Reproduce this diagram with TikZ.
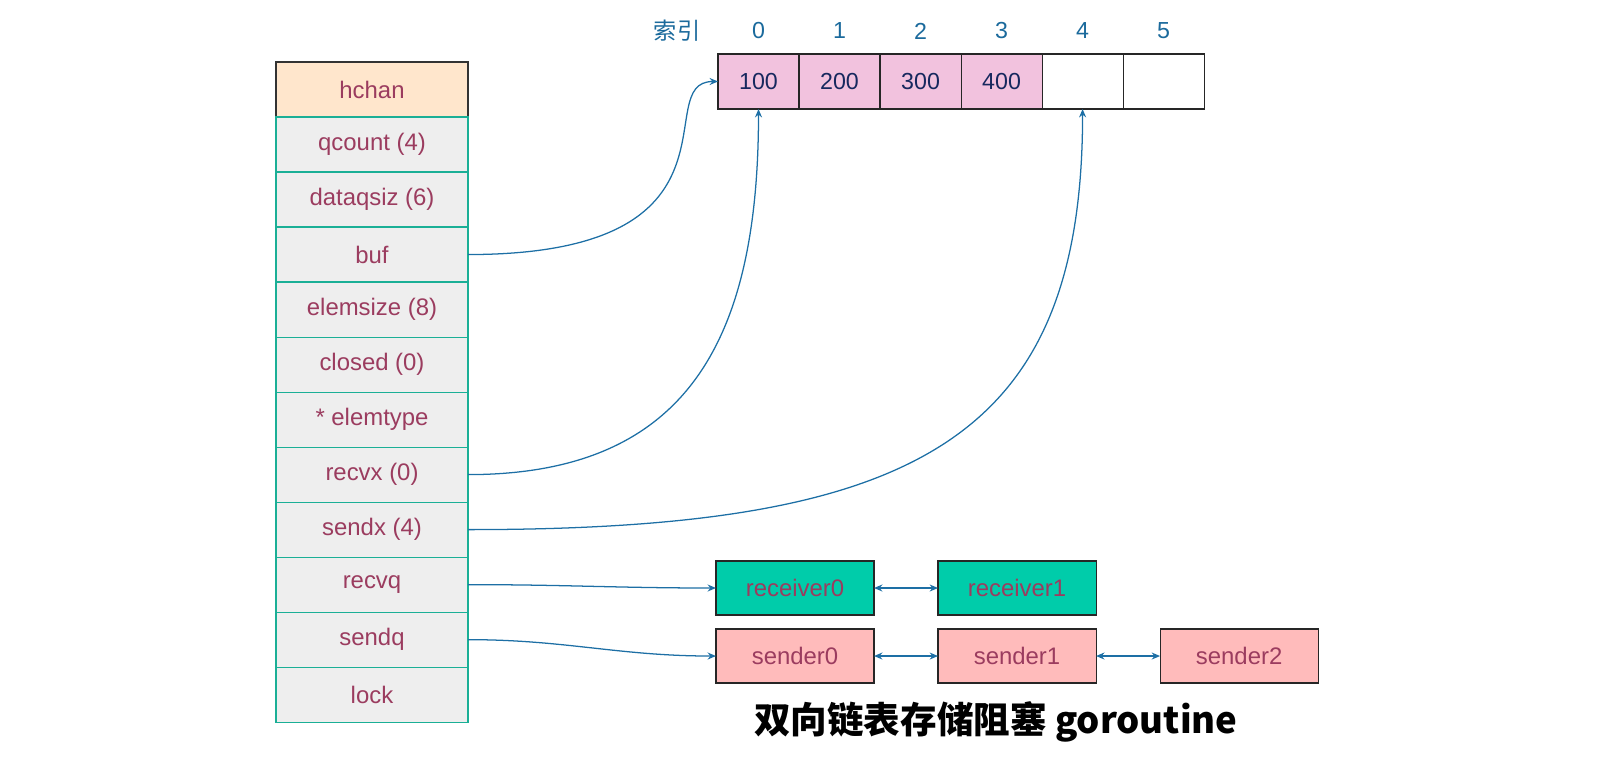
\documentclass[tikz,border=0pt]{standalone}
\usepackage{fontspec}
\setmainfont{Liberation Sans}
\newfontfamily\cjk{Noto Sans CJK SC}
\usepackage{tikz}
\usetikzlibrary{arrows.meta,positioning}

\definecolor{fieldtext}{RGB}{155,60,95}
\definecolor{fieldbg}{RGB}{238,238,238}
\definecolor{fieldline}{RGB}{26,175,150}
\definecolor{headbg}{RGB}{255,230,204}
\definecolor{cellbg}{RGB}{242,194,222}
\definecolor{celltext}{RGB}{23,40,94}
\definecolor{idxblue}{RGB}{27,106,156}
\definecolor{linkblue}{RGB}{29,111,165}
\definecolor{recvbg}{RGB}{0,204,170}
\definecolor{sendbg}{RGB}{255,187,187}

\begin{document}
\begin{tikzpicture}[
    x=0.025cm, y=-0.025cm,
    node distance=1.6cm,
    field/.style={rectangle, draw=fieldline, fill=fieldbg, line width=0.8pt, outer sep=0pt, minimum width=4.8cm, minimum height=1.375cm, text=fieldtext, font=\fontsize{17}{20}\selectfont},
    head/.style={field, draw=black!80, fill=headbg},
    cell/.style={rectangle, draw=black!85, fill=cellbg, line width=0.8pt, outer sep=0pt, minimum width=2.025cm, minimum height=1.375cm, text=celltext, font=\fontsize{16.5}{20}\selectfont},
    empty/.style={cell, fill=white},
    idx/.style={text=idxblue, font=\fontsize{16.5}{20}\selectfont},
    gnode/.style={rectangle, draw=black!85, line width=0.8pt, outer sep=0pt, minimum width=3.95cm, minimum height=1.35cm, text=fieldtext, font=\fontsize{17}{20}\selectfont},
    recvbox/.style={gnode, fill=recvbg},
    sendbox/.style={gnode, fill=sendbg},
    link/.style={-{Stealth[length=6pt,width=5pt,inset=2pt]}, draw=linkblue, line width=0.9pt},
    dlink/.style={{Stealth[length=6pt,width=5pt,inset=2pt]}-{Stealth[length=6pt,width=5pt,inset=2pt]}, draw=linkblue, line width=0.9pt}
]
\useasboundingbox (0,0) rectangle (1608,764);

% hchan struct
\node (hchan) [head] at (372,89.5) {hchan};
\node (qcount) [field, below=0pt of hchan] {qcount (4)};
\node (dataqsiz) [field, below=0pt of qcount] {dataqsiz (6)};
\node (buf) [field, below=0pt of dataqsiz] {buf};
\node (elemsize) [field, below=0pt of buf] {elemsize (8)};
\node (closed) [field, below=0pt of elemsize] {closed (0)};
\node (elemtype) [field, below=0pt of closed] {* elemtype};
\node (recvx) [field, below=0pt of elemtype] {recvx (0)};
\node (sendx) [field, below=0pt of recvx] {sendx (4)};
\node (recvq) [field, below=0pt of sendx] {recvq};
\node (sendq) [field, below=0pt of recvq] {sendq};
\node (lock) [field, below=0pt of sendq] {lock};

% ring buffer
\node (c0) [cell] at (758.5,81.5) {100};
\node (c1) [cell, right=0pt of c0] {200};
\node (c2) [cell, right=0pt of c1] {300};
\node (c3) [cell, right=0pt of c2] {400};
\node (c4) [empty, right=0pt of c3] {};
\node (c5) [empty, right=0pt of c4] {};

% indices
\coordinate (idxrow) at (0,31);
\node (idxname) [idx] at (677,31) {\cjk 索引};
\node (i0) [idx] at (c0 |- idxrow) {0};
\node (i1) [idx] at (c1 |- idxrow) {1};
\node (i2) [idx] at (c2 |- idxrow) {2};
\node (i3) [idx] at (c3 |- idxrow) {3};
\node (i4) [idx] at (c4 |- idxrow) {4};
\node (i5) [idx] at (c5 |- idxrow) {5};

% wait queues
\node (recv0) [recvbox] at (795,588) {receiver0};
\node (recv1) [recvbox, right=1.6cm of recv0] {receiver1};
\node (send0) [sendbox, below=0.35cm of recv0] {sender0};
\node (send1) [sendbox, right=1.6cm of send0] {sender1};
\node (send2) [sendbox, right=1.6cm of send1] {sender2};

\draw [dlink] (recv0) -- (recv1);
\draw [dlink] (send0) -- (send1);
\draw [dlink] (send1) -- (send2);

% pointers
\draw [link] (buf.east) .. controls +(290,0) and +(-70,0) .. (c0.west);
\draw [link] (recvx.east) .. controls +(220,0) and +(0,230) .. (c0.south);
\draw [link] (sendx.east) .. controls +(450,0) and +(0,330) .. (c4.south);
\draw [link] (recvq.east) to[out=0,in=180] (recv0.west);
\draw [link] (sendq.east) to[out=0,in=180] (send0.west);

\node (caption) [font=\cjk\bfseries\fontsize{26}{30}\selectfont] at (996,722) {双向链表存储阻塞 goroutine};

\end{tikzpicture}
\end{document}
